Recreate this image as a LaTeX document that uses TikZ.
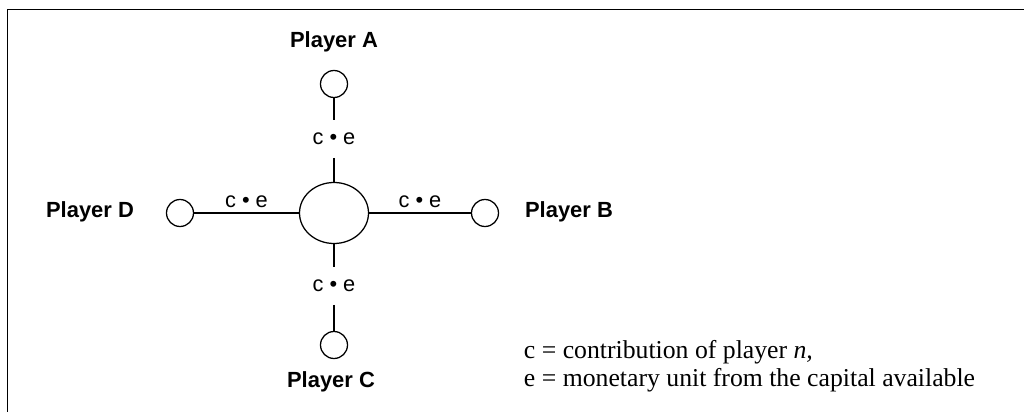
\documentclass[tikz,border=0pt]{standalone}
\usepackage{fontspec}
\setmainfont{Liberation Serif}
\setsansfont{Liberation Sans}
\usetikzlibrary{shapes.geometric}

\tikzset{
  seat/.style={draw, circle, minimum size=27\unitlength, inner sep=0pt, line width=0.9pt},
  hub/.style={draw, ellipse, minimum width=69\unitlength, minimum height=61\unitlength, inner sep=0pt, line width=0.9pt},
  player/.style={font=\sffamily\bfseries\fontsize{15.6}{18}\selectfont},
  share/.style={font=\sffamily\fontsize{15.5}{18}\selectfont, inner sep=2pt},
  link/.style={line width=0.9pt},
}
\setlength{\unitlength}{0.025cm}

\begin{document}
\begin{tikzpicture}[x=0.025cm, y=-0.025cm]
\useasboundingbox (0,0) rectangle (1024,412);
% frame
\draw[line width=1.1pt] (7.5,412) -- (7.5,9.5) -- (1024,9.5);
% pot and players
\node[hub] (hub) at (334,213) {};
\node[seat] (pa) at (334,84) {};
\node[seat] (pb) at (485,213) {};
\node[seat] (pc) at (334,345) {};
\node[seat] (pd) at (180,213) {};
\node[player] (na) at (334,42) {Player A};
\node[player] (nb) at (569,212) {Player B};
\node[player] (nc) at (331,382) {Player C};
\node[player] (nd) at (90,212) {Player D};
% contributions
\node[share, inner ysep=9pt] (sa) at (334,139) {c • e};
\node[share, inner ysep=9pt] (sc) at (334,286) {c • e};
\draw[link] (pa) -- (sa);
\draw[link] (sa) -- (hub);
\draw[link] (hub) -- (sc);
\draw[link] (sc) -- (pc);
\draw[link] (pd) -- (hub) node[share, midway, above=1pt] (sd) {c • e};
\draw[link] (hub) -- (pb) node[share, midway, above=1pt] (sb) {c • e};
% legend
\node[anchor=west, align=left, font=\fontsize{18.3}{19.9}\selectfont] (key) at (519,366)
  {c = contribution of player \textit{n,}\\ e = monetary unit from the capital available};
\end{tikzpicture}
\end{document}
